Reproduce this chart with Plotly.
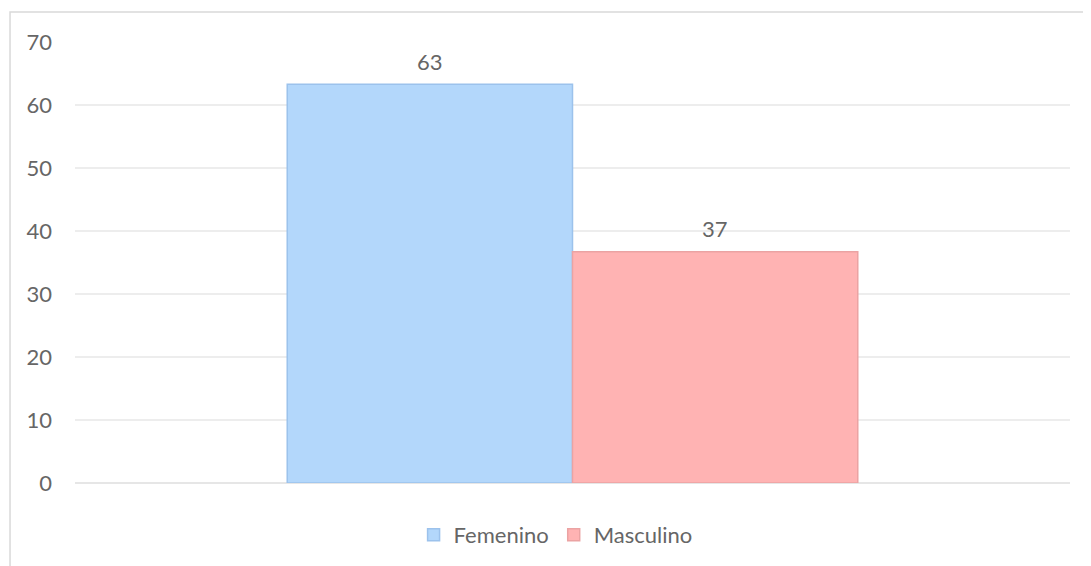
"""Bar chart: distribution by sex (Femenino / Masculino)"""

import plotly.graph_objects as go

# data
categories = ['Sexo']
series_names = ['Femenino', 'Masculino']
series_values = [[63.3], [36.7]]
fill_colors = ['#b3d7fb', '#ffb3b3']
line_colors = ['#9cc2ec', '#eba3a3']
y_ticks = [0, 10, 20, 30, 40, 50, 60, 70]

TEXT_COLOR = '#666666'
FONT = 'Lato'
FONT_SIZE = 22
BAR_GAP = 0.4266

fig = go.Figure()

for name, values, fill, edge in zip(series_names, series_values, fill_colors, line_colors):
    fig.add_trace(go.Bar(
        x=categories,
        y=values,
        name=name,
        marker=dict(color=fill, line=dict(color=edge, width=1.5)),
    ))

# data labels sit a little higher above the bars than plotly's own outside text,
# so place them as annotations at the centre of each grouped bar
n_series = len(series_names)
bar_width = (1 - BAR_GAP) / n_series
for k, values in enumerate(series_values):
    for i, value in enumerate(values):
        fig.add_annotation(
            x=i + (k - (n_series - 1) / 2) * bar_width,
            y=value,
            xref='x',
            yref='y',
            text=f'{value:.0f}',
            showarrow=False,
            yanchor='middle',
            yshift=23,
            font=dict(family=FONT, size=FONT_SIZE, color=TEXT_COLOR),
        )

# light grey outer frame of the chart area (cropped on the right and bottom)
fig.add_shape(type='rect', xref='paper', yref='paper',
              x0=-0.0653, x1=1.2, y0=-0.5, y1=1.068,
              line=dict(color='#d9d9d9', width=1.5), layer='below')

# the page puts the figure 8px in from the top-left corner
fig.update_layout(
    width=1091,
    height=566,
    margin=dict(l=67, r=29, t=34, b=91),
    paper_bgcolor='white',
    plot_bgcolor='white',
    barmode='group',
    bargap=BAR_GAP,
    bargroupgap=0,
    font=dict(family=FONT, size=FONT_SIZE, color=TEXT_COLOR),
    showlegend=True,
    legend=dict(
        orientation='h',
        x=0.483,
        xanchor='center',
        y=-0.118,
        yanchor='middle',
        font=dict(family=FONT, size=FONT_SIZE, color=TEXT_COLOR),
        itemwidth=30,
        traceorder='normal',
    ),
    xaxis=dict(
        showticklabels=False,
        showgrid=False,
        zeroline=False,
        showline=False,
        ticks='',
    ),
    yaxis=dict(
        range=[0, 70],
        tickvals=y_ticks,
        showgrid=True,
        gridcolor='#ededed',
        gridwidth=1.5,
        zeroline=True,
        zerolinecolor='#e6e6e6',
        zerolinewidth=1.5,
        showline=False,
        ticks='',
        ticklabelstandoff=22,
        tickfont=dict(family=FONT, size=FONT_SIZE, color=TEXT_COLOR),
    ),
)

fig.write_html('out.html')
